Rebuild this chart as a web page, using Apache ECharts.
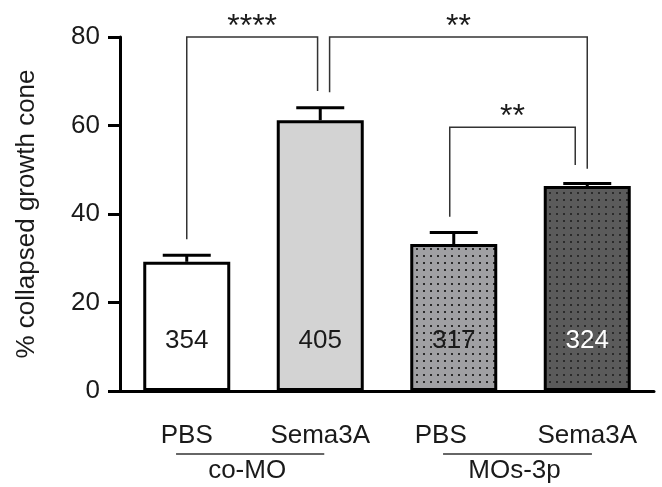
<!DOCTYPE html>
<html>
<head>
<meta charset="utf-8">
<script src="https://cdn.jsdelivr.net/npm/echarts@6/dist/echarts.min.js"></script>
<style>
	html, body { margin: 0; padding: 0; background: #fff; }
	#chart { width: 662px; height: 487px; }
</style>
</head>
<body>
<div id="chart"></div>
<script>
const categories = ["PBS", "Sema3A", "PBS", "Sema3A"];
const values = [29.2, 61.2, 33.2, 46.3];
const errors = [1.5, 2.8, 2.6, 0.6];
const counts = ["354", "405", "317", "324"];
const yTicks = [0, 20, 40, 60, 80];

// comparison brackets: [leftX, rightX, leftBottom, rightBottom, top]
const brackets = [
	[0.0, 0.98, 34.3, 67.8, 80],
	[1.07, 3.0, 67.5, 50.2, 80],
	[1.97, 2.91, 39.4, 51.1, 59.6]
];
const stars = ["****", "**", "**"];

const groupNames = ["co-MO", "MOs-3p"];
const groupSpans = [
	[-0.08, 1.03],
	[1.92, 3.035]
];

const ink = "#1a1a1a";
const font = "'Liberation Sans', Arial, sans-serif";

function dots(bg) {
	const c = document.createElement("canvas");
	c.width = 7;
	c.height = 7;
	const g = c.getContext("2d");
	g.fillStyle = bg;
	g.fillRect(0, 0, 7, 7);
	g.fillStyle = "#2b2b2b";
	g.fillRect(3, 3, 2, 2);
	return c;
}

const fills = [
	"#ffffff",
	"#d3d3d3",
	{ image: dots("#a0a0a3"), repeat: "repeat" },
	{ image: dots("#5b5b5b"), repeat: "repeat" }
];
const labelColors = [ink, ink, ink, "#ffffff"];

const chart = echarts.init(document.getElementById("chart"));

const option = {
	animation: false,
	textStyle: { fontFamily: font },
	grid: { left: 120, right: 8, top: 37, bottom: 96 },
	xAxis: [
		{
			type: "category",
			data: categories,
			axisLine: { lineStyle: { color: "#000", width: 3 } },
			axisTick: { alignWithLabel: true, length: 12, lineStyle: { color: "#000", width: 3 } },
			axisLabel: {
				fontSize: 26,
				color: ink,
				margin: 32,
				formatter: (value, index) => (index === 2 ? `{s|${value}}` : value),
				rich: { s: { fontSize: 26, color: ink, padding: [0, 26, 0, 0] } }
			}
		},
		{ type: "value", min: -0.5, max: 3.5, show: false }
	],
	yAxis: {
		type: "value",
		min: yTicks[0],
		max: yTicks[yTicks.length - 1],
		interval: 20,
		name: "% collapsed growth cone",
		nameLocation: "middle",
		nameGap: 80,
		nameTextStyle: { fontSize: 26, color: ink },
		axisLine: { show: true, onZero: false, lineStyle: { color: "#000", width: 3 } },
		axisTick: { show: true, length: 12, lineStyle: { color: "#000", width: 3 } },
		axisLabel: { fontSize: 26, color: ink, margin: 20 },
		splitLine: { show: false }
	},
	series: [
		{
			type: "bar",
			barWidth: 87,
			data: values.map((v, i) => ({
				value: v,
				itemStyle: { color: fills[i] },
				label: { color: labelColors[i] }
			})),
			itemStyle: { borderColor: "#000", borderWidth: 3 },
			label: {
				show: true,
				position: "insideBottom",
				distance: 37,
				fontSize: 26,
				formatter: p => counts[p.dataIndex]
			}
		},
		{
			// upper error bars
			type: "custom",
			z: 3,
			data: values.map((v, i) => [i, v, errors[i]]),
			renderItem: (params, api) => {
				const base = api.coord([api.value(0), api.value(1)]);
				const end = api.coord([api.value(0), api.value(1) + api.value(2)]);
				const line = { stroke: "#000", lineWidth: 3 };
				return {
					type: "group",
					children: [
						{ type: "line", shape: { x1: base[0], y1: base[1], x2: end[0], y2: end[1] }, style: line },
						{ type: "line", shape: { x1: end[0] - 24, y1: end[1], x2: end[0] + 24, y2: end[1] }, style: line }
					]
				};
			}
		},
		{
			type: "custom",
			xAxisIndex: 1,
			z: 4,
			data: brackets,
			renderItem: (params, api) => {
				const x0 = api.value(0);
				const x1 = api.value(1);
				const top = api.value(4);
				const a = api.coord([x0, api.value(2)]);
				const b = api.coord([x0, top]);
				const c = api.coord([x1, top]);
				const d = api.coord([x1, api.value(3)]);
				return {
					type: "group",
					children: [
						{
							type: "polyline",
							shape: { points: [a, b, c, d] },
							style: { stroke: "#333", lineWidth: 1.5, fill: null }
						},
						{
							type: "text",
							style: {
								text: stars[params.dataIndex],
								x: (b[0] + c[0]) / 2,
								y: b[1] - 10,
								font: `32px ${font}`,
								fill: ink,
								align: "center",
								verticalAlign: "middle"
							}
						}
					]
				};
			}
		},
		{
			// group underlines and names below the axis
			type: "custom",
			xAxisIndex: 1,
			clip: false,
			data: groupSpans,
			renderItem: (params, api) => {
				const p0 = api.coord([api.value(0), 0]);
				const p1 = api.coord([api.value(1), 0]);
				const y = p0[1] + 63;
				return {
					type: "group",
					children: [
						{
							type: "line",
							shape: { x1: p0[0], y1: y, x2: p1[0], y2: y },
							style: { stroke: "#333", lineWidth: 1.5 }
						},
						{
							type: "text",
							style: {
								text: groupNames[params.dataIndex],
								x: (p0[0] + p1[0]) / 2 - 3,
								y: y + 17,
								font: `26px ${font}`,
								fill: ink,
								align: "center",
								verticalAlign: "middle"
							}
						}
					]
				};
			}
		}
	]
};

chart.setOption(option);
</script>
</body>
</html>
